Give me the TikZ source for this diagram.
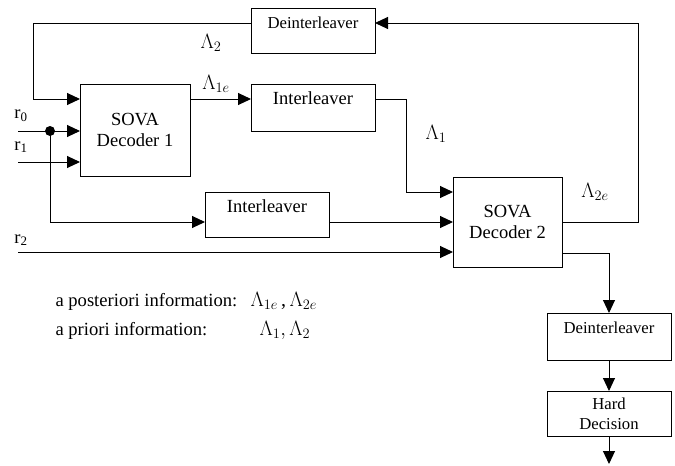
\documentclass[tikz,border=0pt]{standalone}
\usepackage{fontspec}
\setmainfont{Liberation Serif}
\usetikzlibrary{arrows.meta}
\begin{document}
\begin{tikzpicture}[x=1pt,y=-1pt,
  line width=1pt,
  arr/.style={-{Triangle[length=13pt,width=12pt]}},
  bigfont/.style={font=\fontsize{18.5}{21}\selectfont},
  legfont/.style={font=\fontsize{18.6}{21}\selectfont},
  smallfont/.style={font=\fontsize{16.7}{20}\selectfont},
  topbox/.style={draw, anchor=north, inner sep=0pt, outer sep=0pt,
    minimum width=124pt, text height=20pt},
  decbox/.style={draw, inner sep=0pt, outer sep=0pt, align=center, bigfont},
  lam/.style={font=\fontsize{20}{24}\selectfont, inner sep=0pt},
  lbl/.style={bigfont, inner sep=0pt}]
\useasboundingbox (0,0) rectangle (675,466);

% boxes
\node[topbox, smallfont, text depth=25pt] (dint1) at (313,8) {Deinterleaver};
\node[topbox, bigfont, text depth=27pt] (int1) at (313,84) {Interleaver};
\node[topbox, bigfont, text depth=25pt] (int2) at (267,192) {Interleaver};
\node[topbox, smallfont, text depth=27pt] (dint2) at (609,313) {Deinterleaver};
\node[draw, inner sep=0pt, outer sep=0pt, align=center, smallfont,
  minimum width=124pt, minimum height=45pt] (hard) at (609,413.5) {Hard\\Decision};
\node[decbox, minimum width=110pt, minimum height=92pt] (dec1) at (135,130) {SOVA\\Decoder 1};
\node[decbox, minimum width=109pt, minimum height=90pt] (dec2) at (507.5,222) {SOVA\\Decoder 2};

% row coordinates
\coordinate (yT) at (0,23);
\coordinate (yA) at (0,99);
\coordinate (yB) at (0,131);
\coordinate (yC) at (0,162);
\coordinate (yD) at (0,192);
\coordinate (yE) at (0,222);
\coordinate (yF) at (0,252);
\coordinate (fbL) at (33,23);
\coordinate (fbR) at (638,23);
\coordinate (i1turn) at (406,99);
\coordinate (d2turn) at (609,253);
\coordinate (split) at (50,131);
\coordinate (r0s) at (18,131);
\coordinate (r1s) at (18,162);
\coordinate (r2s) at (18,252);
\coordinate (out) at (609,464);

% connectors
\draw[arr] (dint1.west |- yT) -- (fbL) |- (dec1.west |- yA);
\draw[arr] (dec1.east |- yA) -- (int1.west |- yA);
\draw[arr] (int1.east |- yA) -- (i1turn) |- (dec2.west |- yD);
\draw[arr] (r0s) -- (dec1.west |- yB);
\draw[arr] (r1s) -- (dec1.west |- yC);
\fill (split) circle (5pt);
\draw[arr] (split) |- (int2.west |- yE);
\draw[arr] (int2.east |- yE) -- (dec2.west |- yE);
\draw[arr] (r2s) -- (dec2.west |- yF);
\draw[arr] (dec2.east |- yE) -| (fbR) -- (dint1.east |- yT);
\draw[arr] (dec2.east |- d2turn) -- (d2turn) -- (dint2.north);
\draw[arr] (dint2.south) -- (hard.north);
\draw[arr] (hard.south) -- (out);

% labels
\node[lbl] (r0) at (21,116) {r\textsubscript{0}};
\node[lbl] (r1) at (21,147) {r\textsubscript{1}};
\node[lbl] (r2) at (21,240) {r\textsubscript{2}};
\node[lam] (lab2) at (211,43) {$\Lambda_2$};
\node[lam] (lab1e) at (216,84) {$\Lambda_{1e}$};
\node[lam] (lab1) at (436,134) {$\Lambda_1$};
\node[lam] (lab2e) at (595,192) {$\Lambda_{2e}$};

% legend
\node[legfont, inner sep=0pt, anchor=base west] (post) at (55,306) {a posteriori information:};
\node[lam, anchor=base west] (postl) at (250,306) {$\Lambda_{1e}$\,,\,$\Lambda_{2e}$};
\node[legfont, inner sep=0pt, anchor=base west] (prio) at (55,335) {a priori information:};
\node[lam, anchor=base west] (priol) at (259,335) {$\Lambda_1,\Lambda_2$};
\end{tikzpicture}
\end{document}
